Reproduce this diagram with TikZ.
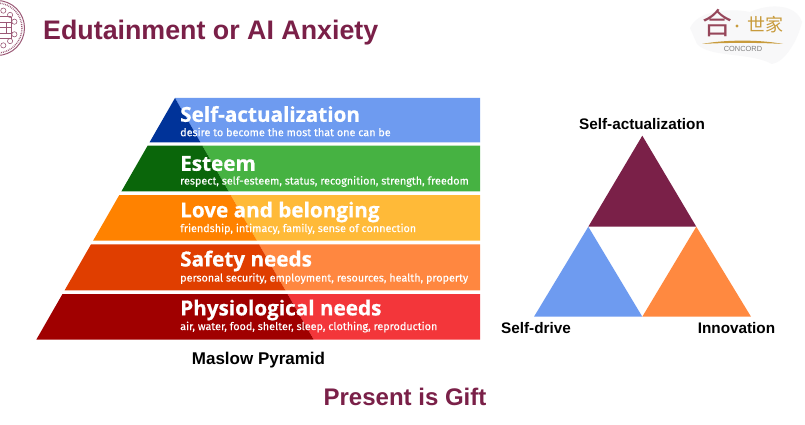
\documentclass[tikz,border=0pt]{standalone}
\usepackage{fontspec}
\setmainfont{Liberation Sans}
\newfontfamily\bandfont[FakeBold=0.6]{Open Sans}
\newfontfamily\notefont[FakeBold=0.25]{Fira Sans}
\newfontfamily\cjkfont{Noto Sans CJK SC}
\usetikzlibrary{positioning, calc}
\definecolor{titlemaroon}{RGB}{122,32,72}
\definecolor{trianglemaroon}{RGB}{122,32,72}
\definecolor{triangleblue}{RGB}{110,155,240}
\definecolor{triangleorange}{RGB}{255,137,64}
\definecolor{logogold}{RGB}{200,155,60}
\definecolor{logoplum}{RGB}{150,70,90}
\definecolor{mapgray}{RGB}{248,248,249}
\begin{document}
\begin{tikzpicture}[
    x=1pt, y=-1pt,
    band/.style={anchor=west, text=white, inner sep=0pt, font=\bandfont\bfseries\fontsize{20.7}{22}\selectfont},
    note/.style={anchor=west, text=white, inner sep=0pt, font=\notefont\fontsize{10.8}{12}\selectfont},
    caption/.style={font=\bfseries\fontsize{17}{19}\selectfont, text=black, inner sep=0pt},
    corner/.style={font=\bfseries\fontsize{15.3}{17}\selectfont, text=black, inner sep=0pt},
    seal/.style={draw=titlemaroon!75, line width=0.8pt}
  ]
    \useasboundingbox (0,0) rectangle (805,425);
    \fill[white] (0,0) rectangle (805,425);

    % seal
    \begin{scope}
      \clip (0,0) rectangle (40,60);
      \draw[seal, line width=1pt] (-3,28) circle (27.5);
      \draw[seal, densely dotted, line width=1.4pt] (-3,28) circle (25);
      \foreach \ang in {-70,-45,-20,20,45,70}
        \draw[seal, line width=0.6pt] ($(-3,28)+(\ang:18.5)$) circle (2.6);
      \foreach \ypos in {17,22.5,28,33.5,39}
        \draw[seal, line width=1pt] (0,\ypos) -- (11,\ypos);
      \draw[seal, line width=1pt] (11,17) -- (11,39);
      \draw[seal, line width=1pt] (6,22.5) -- (6,33.5);
    \end{scope}

    % title
    \node[anchor=west, inner sep=0pt, text=titlemaroon, font=\bfseries\fontsize{26.8}{30}\selectfont] (title) at (43,33) {Edutainment or AI Anxiety};

    % logo
    \fill[mapgray] (690,28) .. controls (698,10) and (730,8) .. (750,12) .. controls (770,3) and (796,4) .. (802,22) .. controls (798,40) and (785,62) .. (772,64) .. controls (750,52) and (710,58) .. (697,44) -- cycle;
    \node[font=\cjkfont\fontsize{30}{30}\selectfont, text=logoplum, inner sep=0pt] (logohe) at (717,23) {合};
    \fill[logogold] (737,26) circle (1.7);
    \node[font=\cjkfont\fontsize{18}{18}\selectfont, text=logogold, inner sep=0pt] (logoshi) at (765,24.5) {世家};
    \fill[logogold] (702,44) .. controls (725,39.5) and (760,39.5) .. (783,44) .. controls (760,42.5) and (725,42.5) .. (702,44) -- cycle;
    \node[font=\fontsize{7.4}{8}\selectfont, text=black!50, inner sep=0pt] (logoname) at (743,49) {CONCORD};

    % pyramid
    \foreach \ytop/\ybot/\dark/\light in {
        98/142.3/{0,51,153}/{110,155,240},
        145.7/191.3/{10,102,10}/{70,178,66},
        195/240.7/{255,130,0}/{255,186,56},
        244.3/290.3/{224,62,0}/{255,135,64},
        294/339.7/{160,0,0}/{243,54,58}} {
      \pgfmathsetmacro{\ltop}{175-0.574*(\ytop-98)}
      \pgfmathsetmacro{\lbot}{175-0.574*(\ybot-98)}
      \pgfmathsetmacro{\dtop}{175+0.574*(\ytop-98)}
      \pgfmathsetmacro{\dbot}{175+0.574*(\ybot-98)}
      \definecolor{darkpart}{RGB}{\dark}
      \definecolor{lightpart}{RGB}{\light}
      \fill[lightpart] (\dtop,\ytop) -- (480,\ytop) -- (480,\ybot) -- (\dbot,\ybot) -- cycle;
      \fill[darkpart] (\ltop,\ytop) -- (\dtop,\ytop) -- (\dbot,\ybot) -- (\lbot,\ybot) -- cycle;
    }
    \node[band] (selfhead) at (180,114) {Self-actualization};
    \node[note] (selfnote) at (180,132) {desire to become the most that one can be};
    \node[band] (esteemhead) at (180,163.5) {Esteem};
    \node[note] (esteemnote) at (180,181.5) {respect, self-esteem, status, recognition, strength, freedom};
    \node[band] (lovehead) at (180,212) {Love and belonging};
    \node[note] (lovenote) at (180,229) {friendship, intimacy, family, sense of connection};
    \node[band] (safetyhead) at (180,261) {Safety needs};
    \node[note] (safetynote) at (180,278.5) {personal security, employment, resources, health, property};
    \node[band] (physiohead) at (180,310) {Physiological needs};
    \node[note] (physionote) at (180,327) {air, water, food, shelter, sleep, clothing, reproduction};
    \node[caption] (maslow) at (258.5,360.5) {Maslow Pyramid};

    % triangles
    \coordinate (apex) at (642.3,135.7);
    \coordinate (midleft) at (588.3,226.7);
    \coordinate (midright) at (696.3,226.7);
    \coordinate (baseleft) at (534,316.7);
    \coordinate (basemid) at (642.3,316.7);
    \coordinate (baseright) at (751,316.7);
    \fill[trianglemaroon] (apex) -- (midright) -- (midleft) -- cycle;
    \fill[triangleblue] (midleft) -- (basemid) -- (baseleft) -- cycle;
    \fill[triangleorange] (midright) -- (baseright) -- (basemid) -- cycle;
    \node[corner] (topname) at (642,124) {Self-actualization};
    \node[corner] (leftname) at (536,328.5) {Self-drive};
    \node[corner] (rightname) at (736.5,328.5) {Innovation};

    \node[font=\bfseries\fontsize{24}{26}\selectfont, text=titlemaroon, inner sep=0pt] (gift) at (405,397) {Present is Gift};
  \end{tikzpicture}
\end{document}
